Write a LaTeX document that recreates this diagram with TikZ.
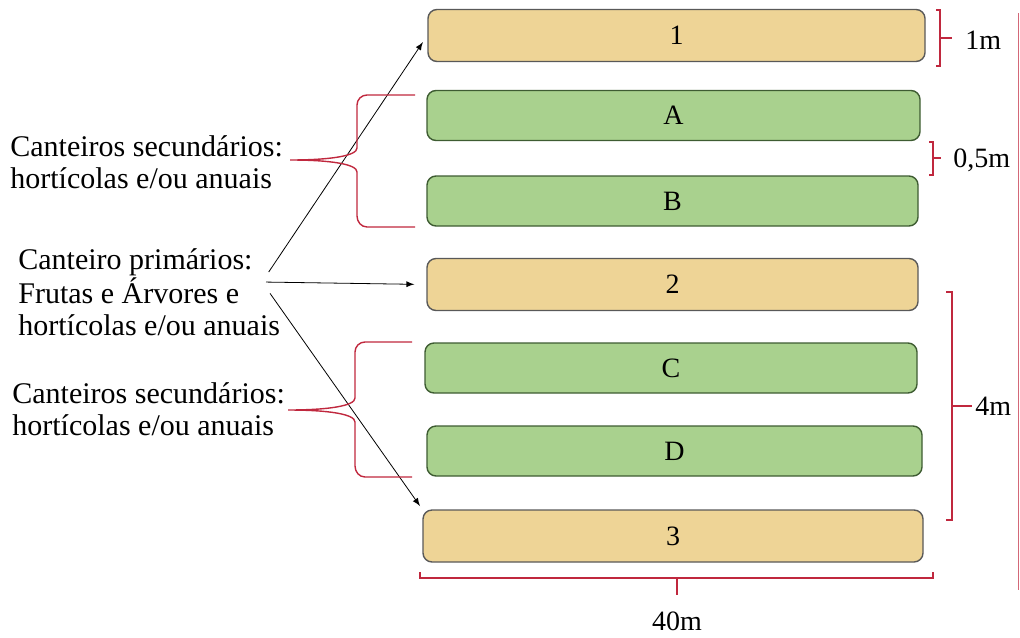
\documentclass[tikz,border=0pt]{standalone}
\usepackage{fontspec}
\setmainfont{Liberation Serif}
\usetikzlibrary{arrows}
\definecolor{palha}{RGB}{238,212,150}
\definecolor{verde}{RGB}{169,209,142}
\definecolor{bordaverde}{RGB}{62,92,50}
\definecolor{vermelho}{RGB}{192,40,62}

\begin{document}
\begin{tikzpicture}[x=0.5pt,y=-0.5pt,
    primario/.style={draw=black!65,fill=palha,rounded corners=4.5pt,line width=0.7pt,inner sep=0pt,minimum height=26pt,font=\fontsize{14}{16}\selectfont},
    secundario/.style={draw=bordaverde,fill=verde,rounded corners=4.5pt,line width=0.7pt,inner sep=0pt,minimum width=246pt,minimum height=25pt,font=\fontsize{14}{16}\selectfont},
    chave/.style={draw=vermelho,line width=0.7pt},
    texto/.style={font=\fontsize{15}{16}\selectfont,align=left,inner sep=0pt,anchor=west},
    medida/.style={font=\fontsize{14}{16}\selectfont,inner sep=0pt}]
    \useasboundingbox (0,0) rectangle (1020,637);

    % canteiros
    \node[primario,minimum width=248.5pt] (c1) at (676.5,35.5) {1};
    \node[secundario,minimum width=246.5pt] (cA) at (673.5,115.5) {A};
    \node[secundario,minimum width=245.5pt] (cB) at (672.5,201) {B};
    \node[primario,minimum width=245.5pt] (c2) at (672.5,284.5) {2};
    \node[secundario] (cC) at (671,368) {C};
    \node[secundario,minimum width=247.5pt] (cD) at (674.5,451) {D};
    \node[primario,minimum width=250pt] (c3) at (673,536) {3};

    % textos
    \node[texto] (sec1) at (10,162) {Canteiros secundários:\\hortícolas e/ou anuais};
    \node[texto] (prim) at (18,292) {Canteiro primários:\\Frutas e Árvores e\\hortícolas e/ou anuais};
    \node[texto] (sec2) at (12,409) {Canteiros secundários:\\hortícolas e/ou anuais};

    \coordinate (saida) at (262,282);
    \draw[-latex,shorten <=6pt,shorten >=4pt] (saida)--(c1.west);
    \draw[-latex,shorten <=2pt,shorten >=6pt] (saida)--(c2.west);
    \draw[-latex,shorten <=7pt,shorten >=2pt] (saida)--(c3.north west);

    % chaves
    \draw[chave] (415,95)--(367,95) to[out=180,in=90] (357,105)--(357,148)
        .. controls (357,156) and (330,160) .. (290,160)
        .. controls (330,160) and (357,164) .. (357,172)--(357,216)
        to[out=-90,in=180] (367,227)--(415,227);
    \draw[chave] (412,342)--(365,342) to[out=180,in=90] (355,352)--(355,398)
        .. controls (355,406) and (328,410) .. (288,410)
        .. controls (328,410) and (355,414) .. (355,422)--(355,466)
        to[out=-90,in=180] (365,477)--(412,477);

    % medidas
    \draw[chave] (936,10)--(940,10)--(940,66)--(936,66) (940,38)--(952,38);
    \node[medida,anchor=west] (m1) at (965,40) {1m};
    \draw[chave] (929,142)--(933,142)--(933,175)--(929,175) (933,158)--(941,158);
    \node[medida,anchor=west] (m05) at (953,160) {0,5m};
    \draw[chave] (946,292)--(952,292)--(952,520)--(946,520) (952,406)--(972,406);
    \node[medida,anchor=west] (m4) at (975,406) {4m};
    \draw[draw=vermelho!70,line width=0.5pt] (1018,13)--(1018,590);
    \draw[chave] (420,572)--(420,578)--(933,578)--(933,572) (677,578)--(677,595);
    \node[medida] (m40) at (677,621) {40m};
\end{tikzpicture}
\end{document}
